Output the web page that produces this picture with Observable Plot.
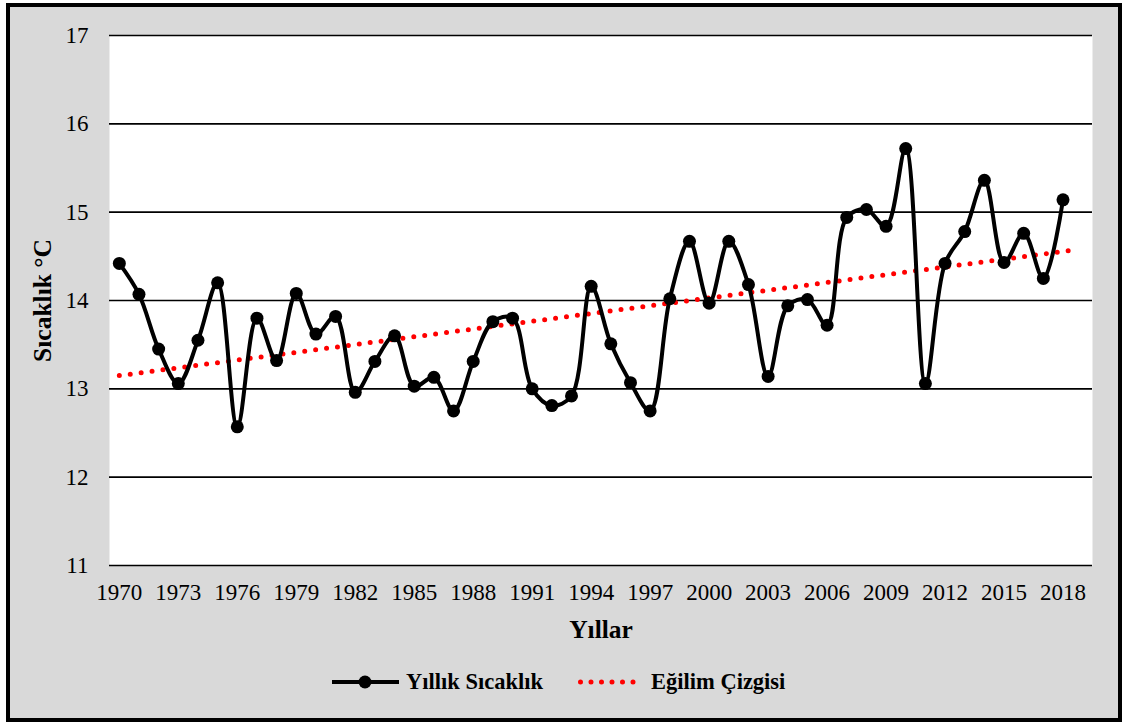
<!DOCTYPE html>
<html>
<head>
<meta charset="utf-8">
<script src="https://cdn.jsdelivr.net/npm/d3@7"></script>
<script src="https://cdn.jsdelivr.net/npm/@observablehq/plot@0.6"></script>
<style>
  html, body { margin: 0; padding: 0; background: #fff; }
  body { width: 1128px; height: 722px; position: relative; overflow: hidden; font-family: "Liberation Serif", "Times New Roman", serif; }
  #frame { position: absolute; left: 6px; top: 3px; width: 1108px; height: 711px; border: 4px solid #000; background: #d9d9d9; }
  #chart { position: absolute; left: 0; top: 0; }
  #legend { position: absolute; left: 0; top: 667px; width: 1128px; height: 30px; font-family: "Liberation Serif", "Times New Roman", serif; font-weight: bold; font-size: 22.5px; color: #000; }
  #legend .item { position: absolute; top: 0; height: 30px; display: flex; align-items: center; white-space: nowrap; }
  #legend svg { display: block; margin-right: 7px; }
</style>
</head>
<body>
<div id="frame"></div>
<div id="chart"></div>
<div id="legend"></div>
<script>
const years = d3.range(1970, 2019);
const temps = [
  14.42, 14.07, 13.45, 13.06, 13.55, 14.20, 12.57, 13.80, 13.32, 14.08,
  13.62, 13.82, 12.96, 13.31, 13.60, 13.03, 13.13, 12.75, 13.31, 13.76,
  13.80, 13.00, 12.81, 12.92, 14.16, 13.51, 13.07, 12.75, 14.02, 14.67,
  13.97, 14.67, 14.18, 13.14, 13.94, 14.01, 13.72, 14.94, 15.03, 14.84,
  15.72, 13.06, 14.42, 14.78, 15.36, 14.43, 14.76, 14.25, 15.14
];
const trendYears = [1970, 2018.5];
const trendValues = [13.15, 14.57];
const yTicks = [11, 12, 13, 14, 15, 16, 17];
const xTicks = d3.range(1970, 2019, 3);
const seriesNames = ["Yıllık Sıcaklık", "Eğilim Çizgisi"];

const data = years.map((x, i) => ({x, y: temps[i]}));
const trend = trendYears.map((x, i) => ({x, y: trendValues[i]}));

const plot = Plot.plot({
  width: 1128,
  height: 650,
  marginLeft: 109,
  marginRight: 36,
  marginTop: 35,
  marginBottom: 85,
  style: {background: "transparent", fontFamily: "'Liberation Serif', 'Times New Roman', serif", fontSize: "23px", color: "#000"},
  x: {domain: [1969.5, 2019.5], ticks: xTicks, tickFormat: d => String(d)},
  y: {domain: [11, 17], ticks: yTicks, tickFormat: d => String(d)},
  marks: [
    Plot.frame({fill: "white", stroke: null}),
    Plot.ruleY(yTicks, {stroke: "#000", strokeWidth: 1.6}),
    Plot.axisY({ticks: yTicks, tickSize: 0, tickPadding: 21, label: null, fontSize: 23, tickFormat: d => String(d)}),
    Plot.axisX({ticks: xTicks, tickSize: 0, tickPadding: 18, label: null, fontSize: 23, tickFormat: d => String(d)}),
    Plot.line(trend, {x: "x", y: "y", stroke: "#ff0000", strokeWidth: 5, strokeDasharray: "0 11", strokeLinecap: "round"}),
    Plot.line(data, {x: "x", y: "y", stroke: "#000", strokeWidth: 4, curve: "catmull-rom"}),
    Plot.dot(data, {x: "x", y: "y", r: 6.5, fill: "#000", stroke: null}),
    Plot.text(["Sıcaklık °C"], {frameAnchor: "left", textAnchor: "middle", text: d => d, rotate: -90, dx: -67, fontWeight: "bold", fontSize: 25.5}),
    Plot.text(["Yıllar"], {frameAnchor: "bottom", textAnchor: "middle", text: d => d, dy: 72, fontWeight: "bold", fontSize: 25.5})
  ]
});
document.getElementById("chart").appendChild(plot);

const legend = document.getElementById("legend");
const swatches = [
  `<svg width="67" height="20"><line x1="0" y1="10" x2="67" y2="10" stroke="#000" stroke-width="4"/><circle cx="33" cy="10" r="6.5" fill="#000"/></svg>`,
  `<svg width="66" height="20"><line x1="2.5" y1="10" x2="64" y2="10" stroke="#ff0000" stroke-width="5" stroke-dasharray="0 10.5" stroke-linecap="round"/></svg>`
];
const lefts = [332, 578];
seriesNames.forEach((name, i) => {
  const item = document.createElement("div");
  item.className = "item";
  item.style.left = lefts[i] + "px";
  item.innerHTML = swatches[i] + `<span>${name}</span>`;
  legend.appendChild(item);
});
</script>
</body>
</html>
